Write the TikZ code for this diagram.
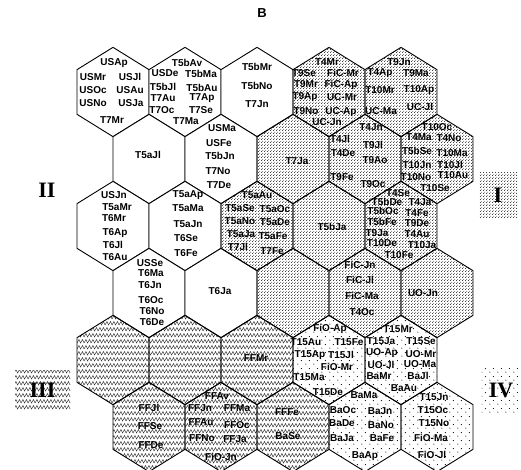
\documentclass[tikz,border=0pt]{standalone}
\usepackage{fontspec}
\setmainfont{Liberation Serif}
\setsansfont{Liberation Sans}
\usepackage{tikz}
\usetikzlibrary{patterns}

% fill patterns of the four regions
\pgfdeclarepatternformonly{densedots}{\pgfqpoint{0pt}{0pt}}{\pgfqpoint{3pt}{3pt}}{\pgfqpoint{3pt}{3pt}}{%
  \pgfpathcircle{\pgfqpoint{0.75pt}{0.75pt}}{0.58pt}%
  \pgfpathcircle{\pgfqpoint{2.25pt}{2.25pt}}{0.58pt}%
  \pgfusepath{fill}}
\pgfdeclarepatternformonly{sparsedots}{\pgfqpoint{0pt}{0pt}}{\pgfqpoint{8pt}{8pt}}{\pgfqpoint{8pt}{8pt}}{%
  \pgfpathcircle{\pgfqpoint{2pt}{2pt}}{0.6pt}%
  \pgfpathcircle{\pgfqpoint{6pt}{6pt}}{0.6pt}%
  \pgfusepath{fill}}
\pgfdeclarepatternformonly{zigzag}{\pgfqpoint{-0.5pt}{-0.5pt}}{\pgfqpoint{7.5pt}{6.5pt}}{\pgfqpoint{7pt}{6pt}}{%
  \pgfsetlinewidth{0.45pt}%
  \pgfpathmoveto{\pgfqpoint{0pt}{1pt}}%
  \pgfpathlineto{\pgfqpoint{2pt}{4.5pt}}%
  \pgfpathlineto{\pgfqpoint{3.5pt}{1pt}}%
  \pgfpathlineto{\pgfqpoint{5.5pt}{4.5pt}}%
  \pgfpathlineto{\pgfqpoint{7pt}{1pt}}%
  \pgfusepath{stroke}}

\begin{document}
\begin{tikzpicture}[x=1pt, y=-1pt,
    every node/.style={font=\sffamily\bfseries\fontsize{10}{12}\selectfont, inner sep=0pt},
    hexline/.style={draw=black, line width=0.9pt, line join=miter},
    plainhex/.style={hexline, fill=white},
    densehex/.style={hexline, pattern=densedots},
    sparsehex/.style={hexline, pattern=sparsedots},
    zigzaghex/.style={hexline, pattern=zigzag, pattern color=black!80},
    regionlabel/.style={font=\rmfamily\bfseries\fontsize{22}{24}\selectfont}]
    \useasboundingbox (0,0) rectangle (521,470);

    % Hexagons
    \foreach \cx/\cy in {113/92, 185/92, 257/92, 149/159, 221/159, 113/226, 185/226, 149/293, 221/293}
        \draw[plainhex] (\cx,\cy-44.67) -- ++(36,22.33) -- ++(0,44.67) -- ++(-36,22.33) -- ++(-36,-22.33) -- ++(0,-44.67) -- cycle;
    \foreach \cx/\cy in {329/92, 401/92, 293/159, 365/159, 437/159, 257/226, 329/226, 401/226, 293/293, 365/293, 437/293}
        \draw[densehex] (\cx,\cy-44.67) -- ++(36,22.33) -- ++(0,44.67) -- ++(-36,22.33) -- ++(-36,-22.33) -- ++(0,-44.67) -- cycle;
    \foreach \cx/\cy in {113/360, 185/360, 257/360, 149/427, 221/427, 293/427}
        \draw[zigzaghex] (\cx,\cy-44.67) -- ++(36,22.33) -- ++(0,44.67) -- ++(-36,22.33) -- ++(-36,-22.33) -- ++(0,-44.67) -- cycle;
    \foreach \cx/\cy in {329/360, 401/360, 365/427, 437/427}
        \draw[sparsehex] (\cx,\cy-44.67) -- ++(36,22.33) -- ++(0,44.67) -- ++(-36,22.33) -- ++(-36,-22.33) -- ++(0,-44.67) -- cycle;

    % Title and region labels
    \node[font=\sffamily\bfseries\fontsize{13}{15}\selectfont] (btitle) at (262,13) {B};
    \node[regionlabel] (regii) at (47,190) {II};
    \node[regionlabel, pattern=densedots, minimum width=38pt, minimum height=44pt] (regi) at (498,195) {I};
    \node[regionlabel, pattern=zigzag, pattern color=black!80, minimum width=55pt, minimum height=40pt] (regiii) at (42.5,390) {III};
    \node[regionlabel, pattern=sparsedots, minimum width=39pt, minimum height=44pt] (regiv) at (501,390) {IV};

    % Row 1
    \node (usap) at (114,63) {USAp};
    \node (usmr) at (93,77) {USMr};
    \node (usjl) at (130,77) {USJl};
    \node (usoc) at (93,90) {USOc};
    \node (usau) at (130,90) {USAu};
    \node (usno) at (93,103) {USNo};
    \node (usja) at (131,103) {USJa};
    \node (t7mr) at (112,120) {T7Mr};

    \node (t5bav) at (187,63) {T5bAv};
    \node (usde) at (165,73) {USDe};
    \node (t5bma) at (201,74) {T5bMa};
    \node (t5bjl) at (163,87) {T5bJl};
    \node (t5bau) at (202,88) {T5bAu};
    \node (t7au) at (163,98) {T7Au};
    \node (t7ap) at (202,98) {T7Ap};
    \node (t7oc) at (162,110) {T7Oc};
    \node (t7se) at (201,110) {T7Se};
    \node (t7ma) at (186,121) {T7Ma};

    \node (t5bmr) at (257,67) {T5bMr};
    \node (t5bno) at (257,86) {T5bNo};
    \node (t7jn) at (257,104) {T7Jn};

    \node (t4mr) at (327,62) {T4Mr};
    \node (t9se) at (304,73) {T9Se};
    \node (ficmr) at (343,73) {FiC-Mr};
    \node (t9mr) at (306,84) {T9Mr};
    \node (ficap) at (341,85) {FiC-Ap};
    \node (t9ap) at (305,97) {T9Ap};
    \node (ucmr) at (342,97) {UC-Mr};
    \node (t9no) at (306,111) {T9No};
    \node (ucap) at (341,112) {UC-Ap};
    \node (ucjn) at (327,122) {UC-Jn};

    \node (t9jn) at (399,62) {T9Jn};
    \node (t4ap) at (380,73) {T4Ap};
    \node (t9ma) at (416,73) {T9Ma};
    \node (t10mr) at (380,90) {T10Mr};
    \node (t10ap) at (419,90) {T10Ap};
    \node (ucma) at (381,111) {UC-Ma};
    \node (ucjl) at (420,107) {UC-Jl};

    % Row 2
    \node (t5ajl) at (148,155) {T5aJl};

    \node (usma) at (222,128) {USMa};
    \node (usfe) at (219,143) {USFe};
    \node (t5bjn) at (220,156) {T5bJn};
    \node (t7no) at (218,171) {T7No};
    \node (t7de) at (219,185) {T7De};

    \node (t7ja) at (297,161) {T7Ja};

    \node (t4jn) at (371,127) {T4Jn};
    \node (t4jl) at (340,139) {T4Jl};
    \node (t9jl) at (373,145) {T9Jl};
    \node (t4de) at (343,153) {T4De};
    \node (t9ao) at (375,160) {T9Ao};
    \node (t9fe) at (342,177) {T9Fe};
    \node (t9oc) at (373,184) {T9Oc};

    \node (t10oc) at (437,127) {T10Oc};
    \node (t4ma) at (419,137) {T4Ma};
    \node (t4no) at (449,138) {T4No};
    \node (t5bse) at (417,151) {T5bSe};
    \node (t10ma) at (452,153) {T10Ma};
    \node (t10jn) at (417,165) {T10Jn};
    \node (t10jl) at (450,165) {T10Jl};
    \node (t10no) at (416,177) {T10No};
    \node (t10au) at (453,175) {T10Au};
    \node (t10se) at (435,188) {T10Se};

    % Row 3
    \node (usjn) at (114,195) {USJn};
    \node (t5amr) at (117,207) {T5aMr};
    \node (t6mr) at (114,218) {T6Mr};
    \node (t6ap) at (115,233) {T6Ap};
    \node (t6jl) at (113,245) {T6Jl};
    \node (t6au) at (115,257) {T6Au};

    \node (t5aap) at (188,195) {T5aAp};
    \node (t5ama) at (188,208) {T5aMa};
    \node (t5ajn) at (188,224) {T5aJn};
    \node (t6se) at (186,238) {T6Se};
    \node (t6fe) at (186,253) {T6Fe};

    \node (t5aau) at (257,195) {T5aAu};
    \node (t5ase) at (240,208) {T5aSe};
    \node (t5aoc) at (275,209) {T5aOc};
    \node (t5ano) at (240,221) {T5aNo};
    \node (t5ade) at (275,222) {T5aDe};
    \node (t5aja) at (241,234) {T5aJa};
    \node (t5afe) at (273,236) {T5aFe};
    \node (t7jl) at (238,247) {T7Jl};
    \node (t7fe) at (272,251) {T7Fe};

    \node (t5bja) at (332,227) {T5bJa};

    \node (t4se) at (398,193) {T4Se};
    \node (t5bde) at (387,202) {T5bDe};
    \node (t4ja) at (420,202) {T4Ja};
    \node (t5boc) at (383,211) {T5bOc};
    \node (t4fe) at (417,213) {T4Fe};
    \node (t5bfe) at (382,222) {T5bFe};
    \node (t9de) at (417,223) {T9De};
    \node (t9ja) at (377,233) {T9Ja};
    \node (t4au) at (417,234) {T4Au};
    \node (t10de) at (382,243) {T10De};
    \node (t10ja) at (422,245) {T10Ja};
    \node (t10fe) at (399,255) {T10Fe};

    % Row 4
    \node (usse) at (150,263) {USSe};
    \node (t6ma) at (151,273) {T6Ma};
    \node (t6jn) at (150,285) {T6Jn};
    \node (t6oc) at (151,300) {T6Oc};
    \node (t6no) at (152,311) {T6No};
    \node (t6de) at (152,322) {T6De};

    \node (t6ja) at (220,291) {T6Ja};

    \node (ficjn) at (360,265) {FiC-Jn};
    \node (ficjl) at (360,280) {FiC-Jl};
    \node (ficma) at (362,296) {FiC-Ma};
    \node (t4oc) at (362,312) {T4Oc};

    \node (uojn) at (423,293) {UO-Jn};

    % Row 5
    \node (ffmr) at (256,358) {FFMr};

    \node (fioap) at (330,329) {FiO-Ap};
    \node (t15au) at (306,342) {T15Au};
    \node (t15fe) at (349,342) {T15Fe};
    \node (t15ap) at (310,355) {T15Ap};
    \node (t15jl) at (341,355) {T15Jl};
    \node (fiomr) at (337,367) {FiO-Mr};
    \node (t15ma) at (309,377) {T15Ma};
    \node (t15de) at (328,392) {T15De};

    \node (t15mr) at (398,329) {T15Mr};
    \node (t15ja) at (381,341) {T15Ja};
    \node (t15se) at (421,341) {T15Se};
    \node (uoap) at (382,353) {UO-Ap};
    \node (uomr) at (421,354) {UO-Mr};
    \node (uojl) at (381,365) {UO-Jl};
    \node (uoma) at (420,364) {UO-Ma};
    \node (bamr) at (379,376) {BaMr};
    \node (bajl) at (418,376) {BaJl};
    \node (baau) at (404,388) {BaAu};

    % Row 6
    \node (ffjl) at (149,408) {FFJl};
    \node (ffse) at (150,426) {FFSe};
    \node (ffde) at (151,445) {FFDe};

    \node (ffav) at (217,396) {FFAv};
    \node (ffjn) at (200,408) {FFJn};
    \node (ffma) at (237,408) {FFMa};
    \node (ffau) at (201,422) {FFAu};
    \node (ffoc) at (237,425) {FFOc};
    \node (ffno) at (202,438) {FFNo};
    \node (ffja) at (235,439) {FFJa};
    \node (fiojn) at (221,457) {FiO-Jn};

    \node (fffe) at (287,412) {FFFe};
    \node (base) at (288,436) {BaSe};

    \node (bama) at (364,395) {BaMa};
    \node (baoc) at (343,410) {BaOc};
    \node (bajn) at (380,411) {BaJn};
    \node (bade) at (342,423) {BaDe};
    \node (bano) at (381,425) {BaNo};
    \node (baja) at (342,438) {BaJa};
    \node (bafe) at (382,438) {BaFe};
    \node (baap) at (365,456) {BaAp};

    \node (t15jn) at (434,397) {T15Jn};
    \node (t15oc) at (433,410) {T15Oc};
    \node (t15no) at (434,423) {T15No};
    \node (fioma) at (431,438) {FiO-Ma};
    \node (fiojl) at (432,455) {FiO-Jl};
\end{tikzpicture}
\end{document}
